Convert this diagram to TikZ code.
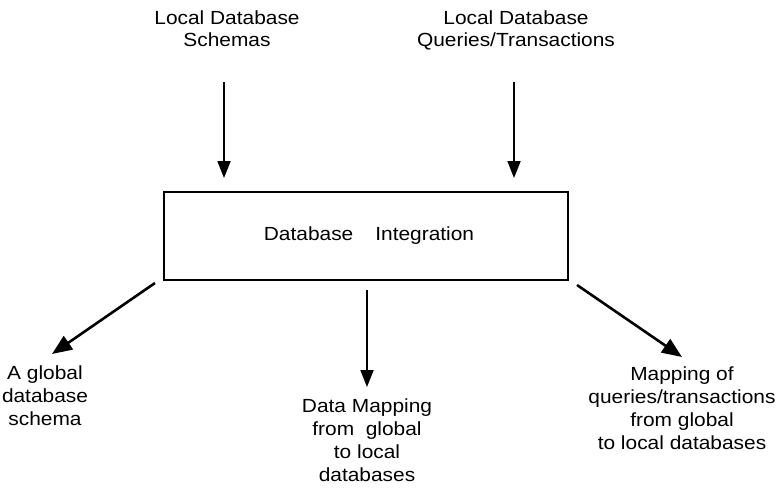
\documentclass[tikz,border=0pt]{standalone}
\usepackage{fontspec}
\setmainfont{Liberation Sans}[FakeStretch=1.1]
\usetikzlibrary{arrows.meta}
\begin{document}
\begin{tikzpicture}[x=1pt,y=-1pt,
  lbl/.style={align=center,anchor=base,inner sep=0pt,font=\fontsize{19}{22.7}\selectfont},
  arr/.style={line width=1.8pt,-{Triangle[length=17pt,width=13pt]}},
  darr/.style={line width=2.6pt,-{Triangle[length=20pt,width=16pt]}},
  boxst/.style={draw,line width=2pt,minimum width=404pt,minimum height=88pt,inner sep=0pt,font=\fontsize{19}{22.7}\selectfont}]
\useasboundingbox (0,0) rectangle (776,492);
% texts (anchored at the baseline of the last line)
\node[lbl] (tl) at (227,47) {Local Database\\Schemas};
\node[lbl] (tr) at (516,47) {Local Database\\Queries/Transactions};
\node[boxst] (box) at (366,236) {\hspace{6pt}Database\hspace{22pt}Integration};
\node[lbl] (bl) at (45,425) {A global\\database\\schema};
\node[lbl] (bm) at (367,481) {Data Mapping\\from\ \ global\\to local\\databases};
\node[lbl] (br) at (682,449) {Mapping of\\queries/transactions\\from global\\to local databases};
% arrow end points
\coordinate (s1) at (224,82);
\coordinate (s2) at (514,82);
\coordinate (e1) at (224,178);
\coordinate (e2) at (514,178);
\coordinate (b1s) at (155,283);
\coordinate (b1e) at (52,354);
\coordinate (b2s) at (367,290);
\coordinate (b2e) at (367,387);
\coordinate (b3s) at (577,285);
\coordinate (b3e) at (682,357);
\draw[arr] (s1) -- (e1);
\draw[arr] (s2) -- (e2);
\draw[darr] (b1s) -- (b1e);
\draw[arr] (b2s) -- (b2e);
\draw[darr] (b3s) -- (b3e);
\end{tikzpicture}
\end{document}
